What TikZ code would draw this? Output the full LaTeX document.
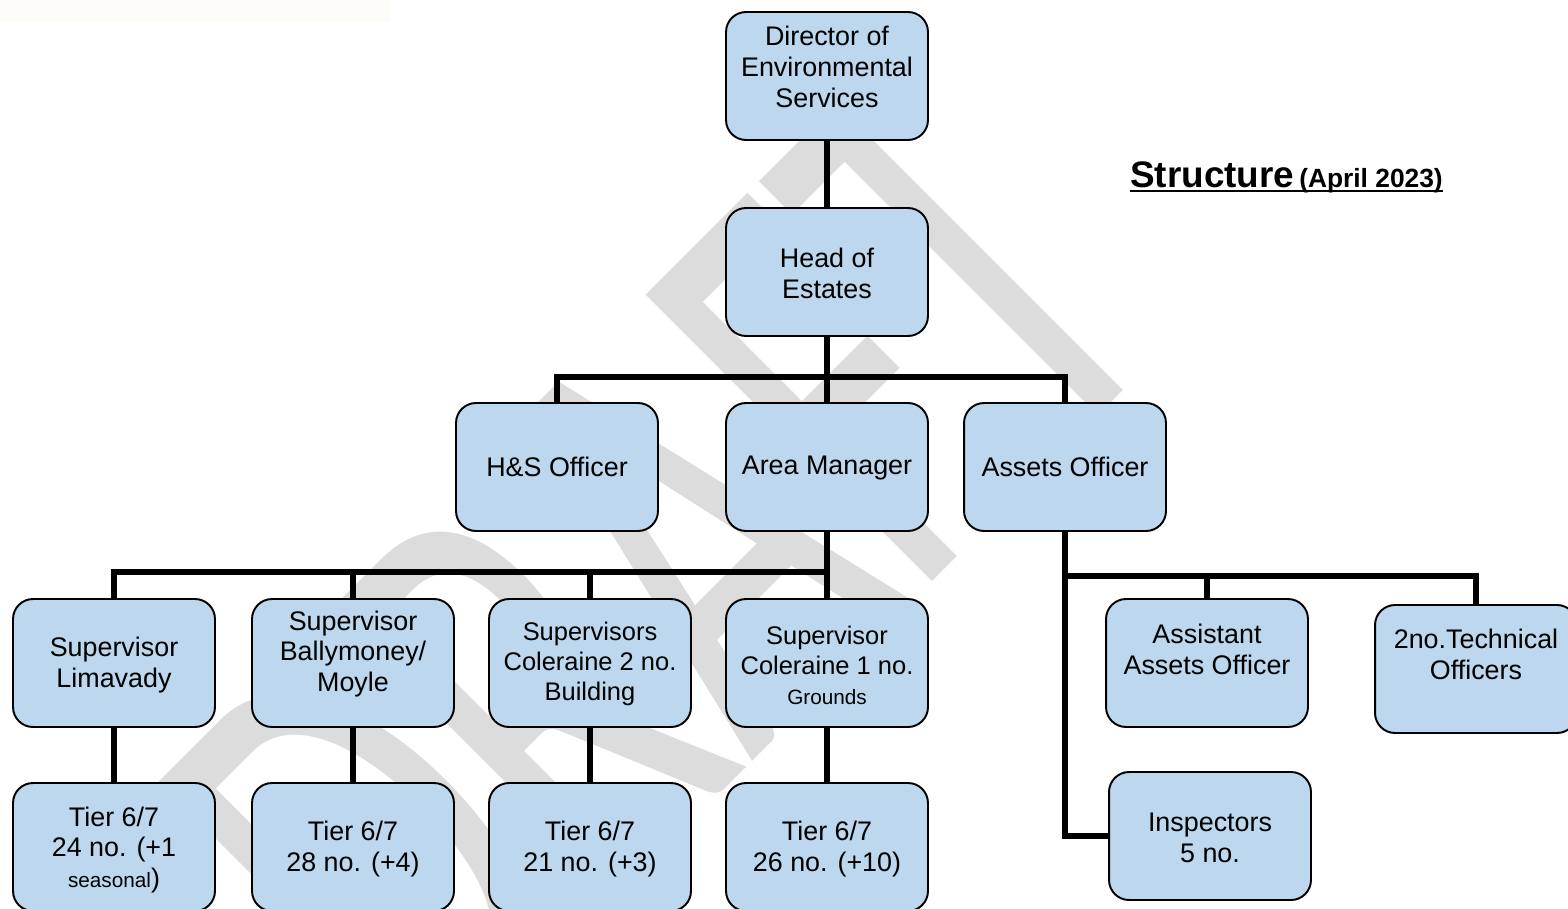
\documentclass[tikz,border=0pt]{standalone}
\usepackage{fontspec}
\setmainfont{Liberation Sans}
\newfontfamily\wmfont{Carlito}
\usepackage{graphicx}
\definecolor{boxblue}{HTML}{BDD7EE}
\definecolor{wmgray}{HTML}{DCDCDC}
\definecolor{topbeige}{HTML}{FEFCF9}
\newcommand{\mainsz}{\fontsize{15.3pt}{17.6pt}\selectfont}
\newcommand{\midsz}{\fontsize{14.5pt}{17pt}\selectfont}
\newcommand{\smallsz}{\fontsize{11.8pt}{13pt}\selectfont}
\begin{document}
\begin{tikzpicture}[x=0.02cm,y=-0.02cm,
  box/.style={draw=black,line width=1.1pt,fill=boxblue,rounded corners=0.4cm,minimum width=4.04cm,minimum height=2.56cm,inner sep=0pt},
  lbl/.style={align=center,inner sep=0pt,font=\mainsz},
  conn/.style={draw=black,line width=3.1pt}]
\useasboundingbox (0,0) rectangle (1568,909);
\clip (0,0) rectangle (1568,909);
\fill[white] (0,0) rectangle (1568,909);
\fill[topbeige] (0,0) rectangle (390,22);
% watermark
\node[anchor=base west,rotate=45,inner sep=0pt,text=wmgray,font=\wmfont\fontsize{226pt}{226pt}\selectfont] (wm) at (426,1088) {\scalebox{1}[1.59]{DRAFT}};
% title
\node[anchor=base west,inner sep=0pt] (title) at (1130,187) {{\fontsize{21pt}{21pt}\selectfont\bfseries Structure} {\fontsize{15pt}{15pt}\selectfont\bfseries (April 2023)}};
\draw[line width=1.7pt] ([yshift=-0.08cm]title.base west) -- ([yshift=-0.08cm]title.base east);
% boxes
\node[box] (dir) at (827,76) {};
\node[box] (head) at (827,272) {};
\node[box] (hs) at (557,467) {};
\node[box] (am) at (827,467) {};
\node[box] (ao) at (1065,467) {};
\node[box] (s1) at (114,663) {};
\node[box] (s2) at (353,663) {};
\node[box] (s3) at (590,663) {};
\node[box] (s4) at (827,663) {};
\node[box] (t1) at (114,847) {};
\node[box] (t2) at (353,847) {};
\node[box] (t3) at (590,847) {};
\node[box] (t4) at (827,847) {};
\node[box] (aao) at (1207,663) {};
\node[box] (tech) at (1476,669) {};
\node[box] (insp) at (1210,836) {};
% labels
\node[lbl] (dirT) at (827,67) {Director of\\Environmental\\Services};
\node[lbl] (headT) at (827,273) {Head of\\Estates};
\node[lbl] (hsT) at (557,467) {H\&S Officer};
\node[lbl] (amT) at (827,468) {Area Manager};
\node[lbl] (aoT) at (1065,467) {Assets Officer};
\node[lbl] (s1T) at (114,665) {Supervisor\\Limavady};
\node[lbl] (s2T) at (353,654) {Supervisor\\Ballymoney/\\Moyle};
\node[lbl,font=\midsz] (s3T) at (590,664) {Supervisors\\Coleraine 2 no.\\Building};
\node[lbl,font=\midsz] (s4T) at (827,665) {Supervisor\\Coleraine 1 no.\\{\smallsz Grounds}};
\node[lbl] (t1T) at (114,850) {Tier 6/7\\24 no. (+1\\{\smallsz seasonal})};
\node[lbl] (t2T) at (353,849) {Tier 6/7\\28 no. (+4)};
\node[lbl] (t3T) at (590,849) {Tier 6/7\\21 no. (+3)};
\node[lbl] (t4T) at (827,849) {Tier 6/7\\26 no. (+10)};
\node[lbl] (aaoT) at (1207,649) {Assistant\\Assets Officer};
\node[lbl] (techT) at (1476,654) {2no.Technical\\Officers};
\node[lbl] (inspT) at (1210,838) {Inspectors\\5 no.};
% connectors
\coordinate (b1) at (827,377);
\coordinate (b2) at (827,572);
\coordinate (b3) at (1065,576);
\draw[conn] (dir.south) -- (head.north);
\draw[conn] (head.south) -- (am.north);
\draw[conn] (hs.north) |- (ao.north |- b1) -- (ao.north);
\draw[conn] (am.south) -- (s4.north);
\draw[conn] (s1.north) |- (s4.north |- b2);
\draw[conn] (s2.north) -- (s2.north |- b2);
\draw[conn] (s3.north) -- (s3.north |- b2);
\draw[conn] (s1.south) -- (t1.north);
\draw[conn] (s2.south) -- (t2.north);
\draw[conn] (s3.south) -- (t3.north);
\draw[conn] (s4.south) -- (t4.north);
\draw[conn] (ao.south) |- (tech.north |- b3) -- (tech.north);
\draw[conn] (aao.north) -- (aao.north |- b3);
\draw[conn] (ao.south) |- (insp.west);
\end{tikzpicture}
\end{document}
